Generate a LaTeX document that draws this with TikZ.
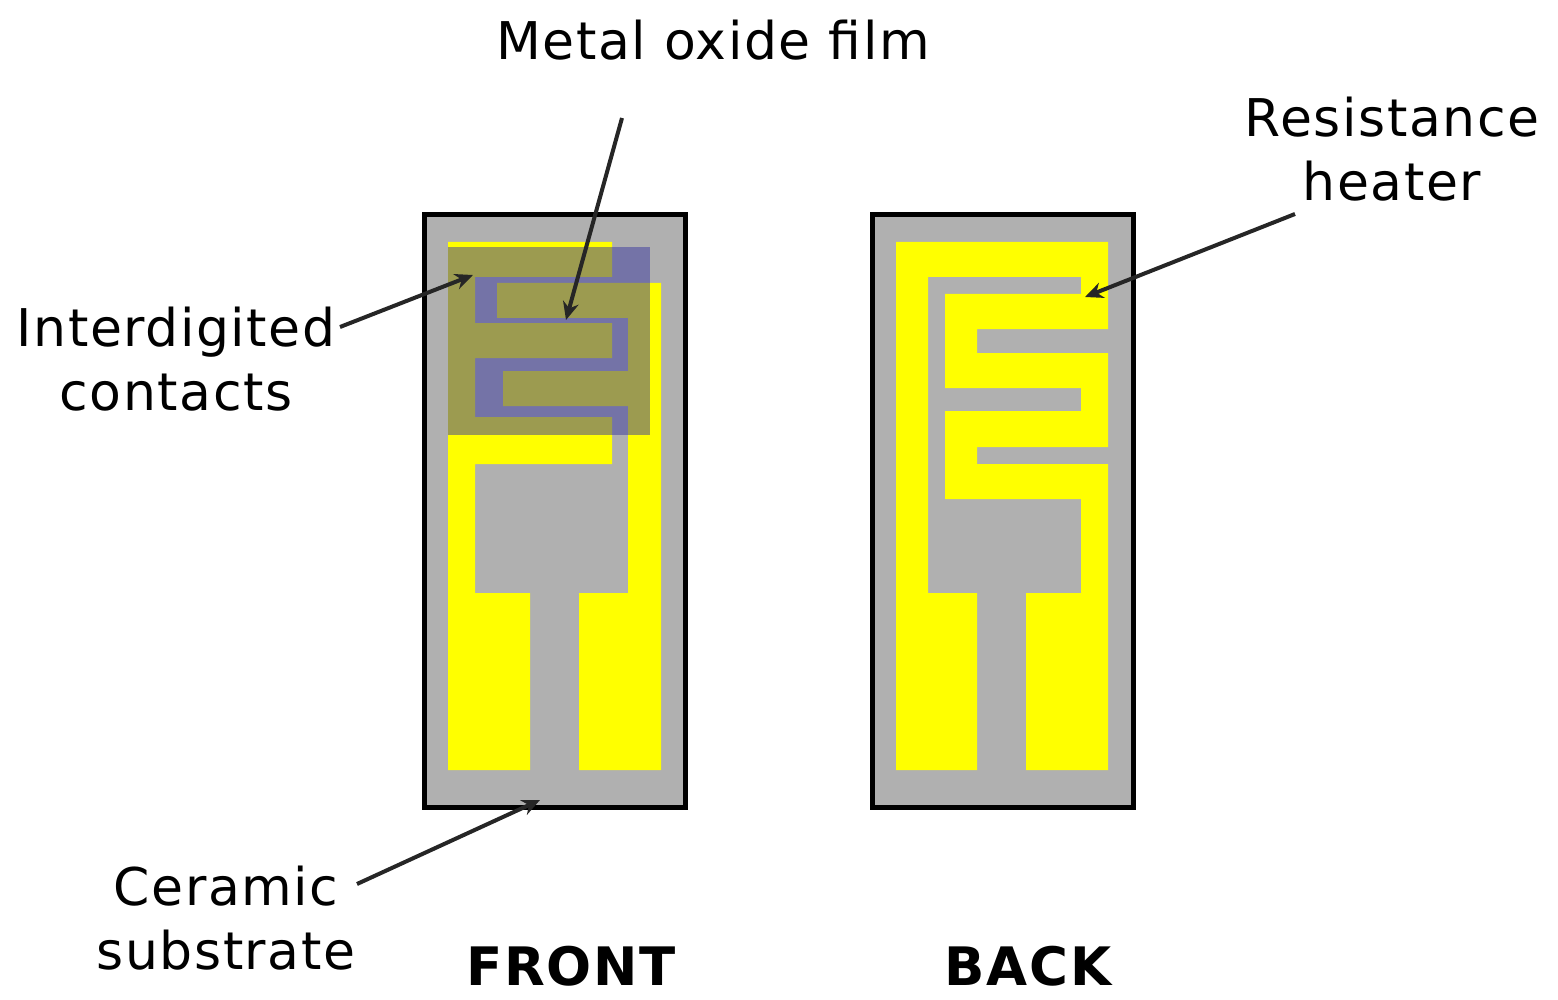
\documentclass[tikz,border=0pt]{standalone}
\usepackage{fontspec}
\setmainfont[LetterSpace=3]{DejaVu Sans}
\usetikzlibrary{arrows.meta}
\definecolor{ceramic}{RGB}{176,176,176}
\definecolor{film}{RGB}{58,56,160}
\definecolor{gold}{RGB}{255,255,0}
\tikzstyle{board}=[rectangle,fill=ceramic,draw=black,line width=5pt]
\tikzstyle{metal}=[fill=gold,draw=none]
\tikzstyle{oxide}=[fill=film,fill opacity=0.5,draw=none]
\tikzstyle{annot}=[align=center,inner sep=0pt,font=\fontsize{52}{64}\selectfont]
\tikzstyle{side}=[annot,font=\fontsize{53}{60}\selectfont\bfseries]
\tikzstyle{pointer}=[draw=black!85,line width=4pt,-{Stealth[length=18pt,width=16pt]}]
\begin{document}
\begin{tikzpicture}[x=1pt,y=-1pt]
	\useasboundingbox (0,0) rectangle (1558,1000);

	% ceramic boards
	\draw[board] (424,215) rectangle (685,807);
	\draw[board] (872,215) rectangle (1133,807);

	% front contacts
	\fill[metal] (448,242) -- (612,242) -- (612,277) -- (475,277) -- (475,323) -- (612,323) -- (612,358) -- (475,358) -- (475,417) -- (612,417) -- (612,464) -- (475,464) -- (475,593) -- (530,593) -- (530,770) -- (448,770) -- cycle;
	\fill[metal] (661,283) -- (497,283) -- (497,318) -- (628,318) -- (628,371) -- (503,371) -- (503,406) -- (628,406) -- (628,593) -- (579,593) -- (579,770) -- (661,770) -- cycle;
	\fill[oxide] (448,247) rectangle (650,435);

	% back heater
	\fill[metal] (896,242) -- (1108,242) -- (1108,329) -- (977,329) -- (977,353) -- (1108,353) -- (1108,447) -- (977,447) -- (977,464) -- (1108,464) -- (1108,770) -- (1026,770) -- (1026,593) -- (1081,593) -- (1081,499) -- (945,499) -- (945,411) -- (1081,411) -- (1081,388) -- (945,388) -- (945,294) -- (1081,294) -- (1081,277) -- (928,277) -- (928,593) -- (977,593) -- (977,770) -- (896,770) -- cycle;

	\node[annot](film) at (713,40) {Metal oxide film};
	\node[annot](contacts) at (176,359) {Interdigited\\contacts};
	\node[annot](heater) at (1392,149) {Resistance\\heater};
	\node[annot](substrate) at (226,918) {Ceramic\\substrate};
	\node[side](front) at (571,966) {FRONT};
	\node[side](back) at (1028,966) {BACK};

	\coordinate (filmtail) at (622,118);
	\coordinate (filmtip) at (566,320);
	\coordinate (contactstail) at (340,327);
	\coordinate (contactstip) at (473,275);
	\coordinate (heatertail) at (1295,214);
	\coordinate (heatertip) at (1085,297);
	\coordinate (substratetail) at (357,884);
	\coordinate (substratetip) at (540,800);

	\draw[pointer] (filmtail) -- (filmtip);
	\draw[pointer] (contactstail) -- (contactstip);
	\draw[pointer] (heatertail) -- (heatertip);
	\draw[pointer] (substratetail) -- (substratetip);
\end{tikzpicture}
\end{document}
